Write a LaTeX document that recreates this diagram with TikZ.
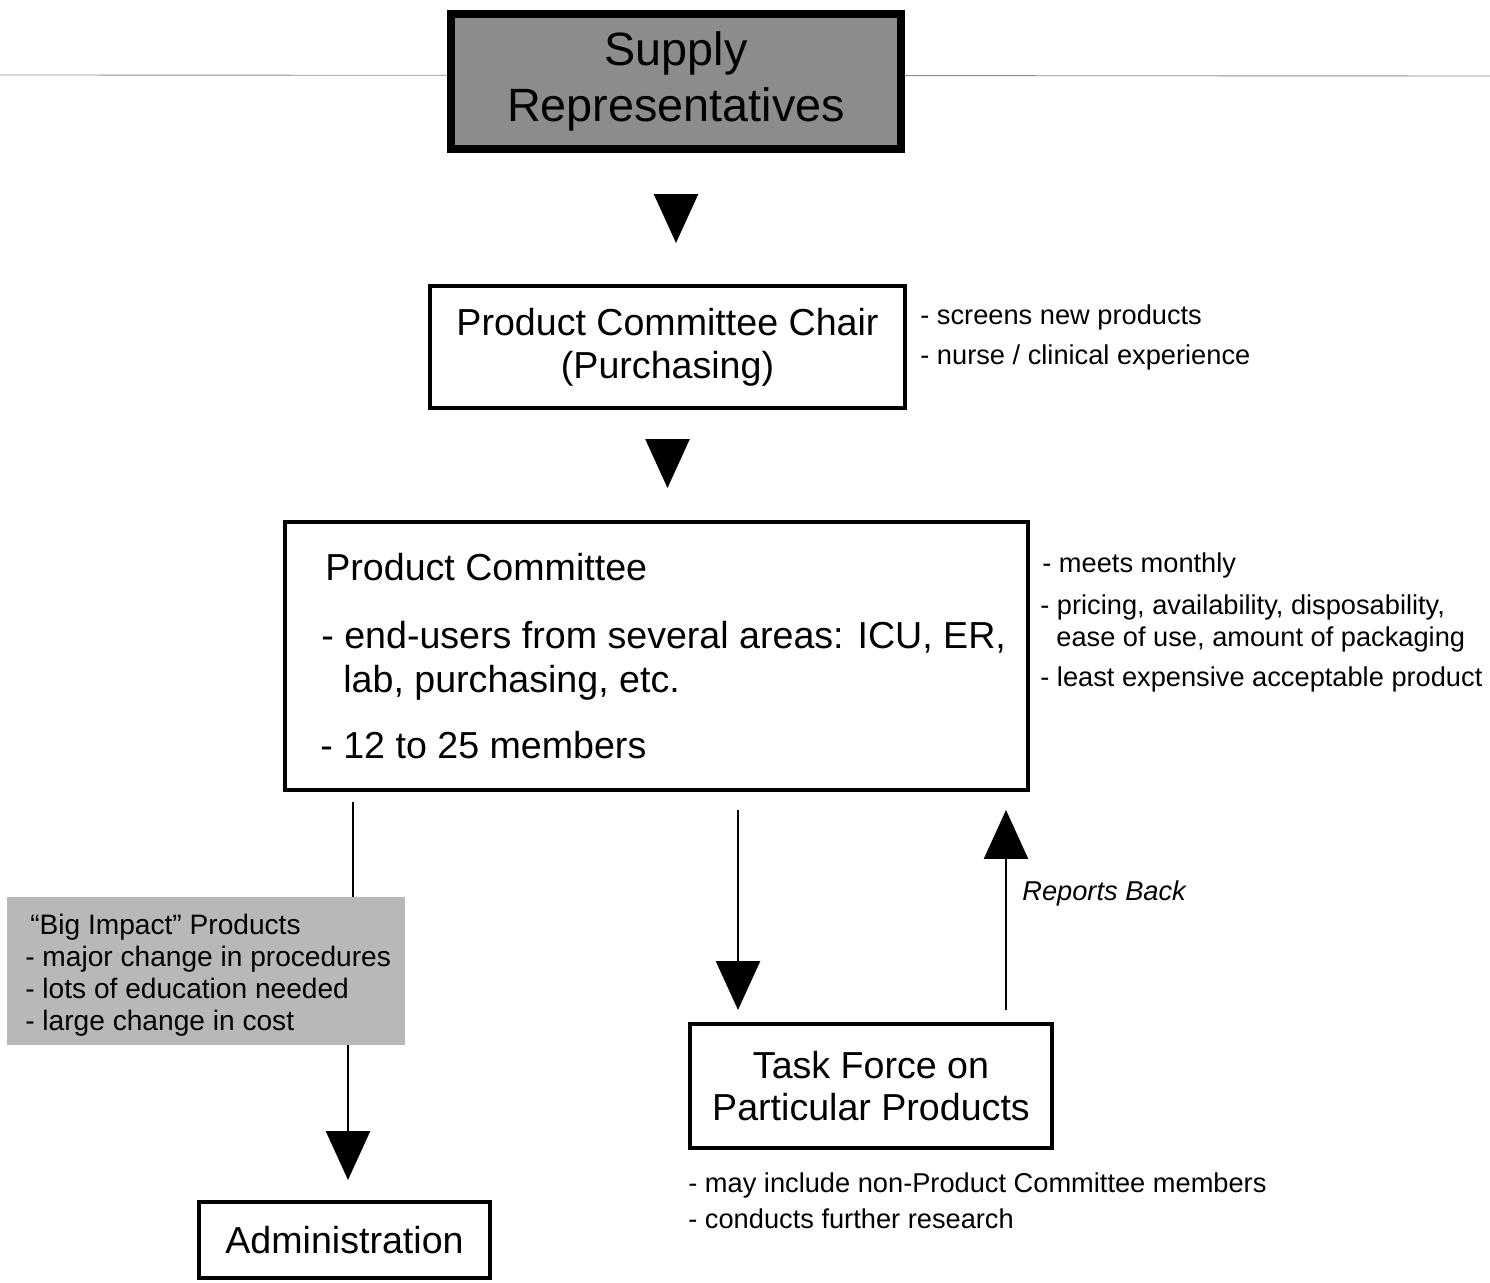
\documentclass[tikz,border=0pt]{standalone}
\usepackage{fontspec}
\setmainfont{Liberation Sans}
\usetikzlibrary{arrows.meta}
\newcommand{\headsize}{\fontsize{26.6pt}{32.3pt}\selectfont}
\newcommand{\boxsize}{\fontsize{21.4pt}{24.4pt}\selectfont}
\newcommand{\notesize}{\fontsize{15.5pt}{18pt}\selectfont}
\newcommand{\impactsize}{\fontsize{16pt}{18.1pt}\selectfont}

\begin{document}
\begin{tikzpicture}[x=0.02cm,y=-0.02cm]

    \tikzset{
      box/.style={
        draw,
        line width=2.3pt,
        inner sep=0pt,
        align=center,
        font=\boxsize,
      },
      boxline/.style={anchor=base west, inner sep=0pt, font=\boxsize},
      note/.style={anchor=base west, inner sep=0pt, font=\notesize},
      tri/.style={line width=1.5pt, -{Triangle[width=0.88cm,length=0.98cm]}},
    }
    \useasboundingbox (0,0) rectangle (1490,1283);
    % faint scan line across the top
    \draw[black!45, line width=0.5pt] (0,75) -- (1490,76);

    \node[box, line width=4.5pt, fill=black!45, font=\headsize, minimum width=9cm, minimum height=2.7cm] (sup) at (676,81.5) {Supply\\Representatives};
    \node[box, minimum width=9.5cm, minimum height=2.44cm] (chair) at (667.5,347) {Product Committee Chair\\(Purchasing)};
    \node[box, minimum width=14.86cm, minimum height=5.36cm] (pc) at (656.5,656) {};
    \node[box, minimum width=7.24cm, minimum height=2.48cm] (task) at (871,1086) {Task Force on\\Particular Products};
    \node[box, minimum width=5.82cm, minimum height=1.52cm] (admin) at (344.5,1240) {Administration};
    \node[fill=black!28, inner sep=0pt, minimum width=7.96cm, minimum height=2.96cm] (big) at (206,971) {};

    % committee text
    \node[boxline] (pctitle) at (325,580) {Product Committee};
    \node[boxline] (pcusers) at (321,648) {- end-users from several areas: ICU, ER,};
    \node[boxline] (pclab) at (343,692) {lab, purchasing, etc.};
    \node[boxline] (pcmembers) at (320,758) {- 12 to 25 members};

    % side notes
    \node[note] (chairnote1) at (920,325) {- screens new products};
    \node[note] (chairnote2) at (920,365) {- nurse / clinical experience};
    \node[note] (pcnote1) at (1042,572) {- meets monthly};
    \node[note] (pcnote2) at (1040,614) {- pricing, availability, disposability,};
    \node[note] (pcnote3) at (1056,646) {ease of use, amount of packaging};
    \node[note] (pcnote4) at (1040,686) {- least expensive acceptable product};
    \node[note] (tasknote1) at (688,1192) {- may include non-Product Committee members};
    \node[note] (tasknote2) at (688,1228) {- conducts further research};

    % big impact text
    \node[note, font=\impactsize] (big1) at (30,934) {``Big Impact'' Products};
    \node[note, font=\impactsize] (big2) at (25,966) {- major change in procedures};
    \node[note, font=\impactsize] (big3) at (25,998) {- lots of education needed};
    \node[note, font=\impactsize] (big4) at (25,1030) {- large change in cost};

    % connectors
    \coordinate (bigin) at (353,897);
    \coordinate (bigout) at (348,1045);
    \coordinate (mdown) at (738,900);
    \coordinate (rback) at (1006,900);

    \draw[tri, shorten <=0.94cm, shorten >=0.82cm] (sup.south) -- (sup.south |- chair.north);
    \draw[tri, shorten <=0.64cm, shorten >=0.64cm] (chair.south) -- (chair.south |- pc.north);
    \draw[line width=1.5pt, shorten <=0.2cm] (pc.south -| bigin) -- (bigin);
    \draw[tri, shorten >=0.4cm] (bigout) -- (bigout |- admin.north);
    \draw[tri, shorten <=0.36cm, shorten >=0.24cm] (pc.south -| mdown) -- (task.north -| mdown);
    \draw[tri, shorten <=0.24cm, shorten >=0.36cm] (task.north -| rback) -- (pc.south -| rback);
    \node[note, font=\notesize\itshape] (reports) at (1022,900) {Reports Back};

\end{tikzpicture}
\end{document}
